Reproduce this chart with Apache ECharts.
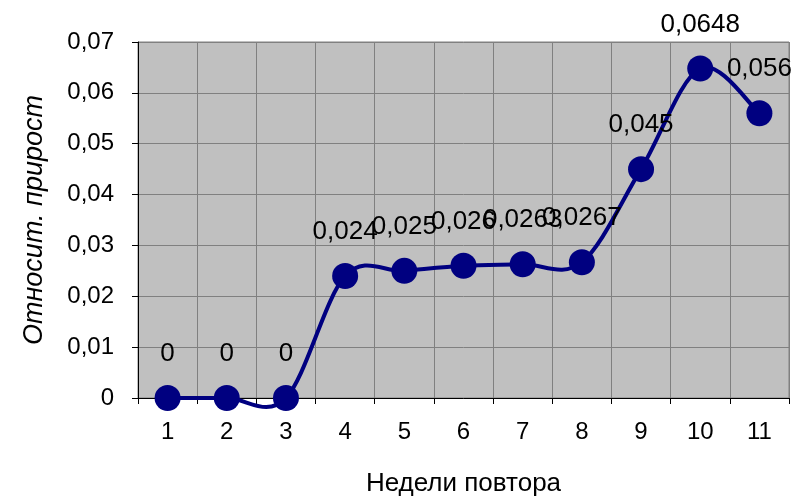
<!DOCTYPE html>
<html>
<head>
<meta charset="utf-8">
<script src="https://cdn.jsdelivr.net/npm/echarts@6/dist/echarts.min.js"></script>
<style>html,body{margin:0;padding:0;background:#fff}#c{width:806px;height:498px}</style>
</head>
<body>
<div id="c"></div>
<script>
var weeks = ['1','2','3','4','5','6','7','8','9','10','11'];
var growth = [0, 0, 0, 0.024, 0.025, 0.026, 0.0263, 0.0267, 0.045, 0.0648, 0.056];
var yTicks = [0, 0.01, 0.02, 0.03, 0.04, 0.05, 0.06, 0.07];
var xName = 'Недели повтора';
var yName = 'Относит. прирост';

function comma(v){ return String(v).replace('.', ','); }
var FONT = 'Liberation Sans, Arial, sans-serif';

// Excel-style smoothed line (Catmull-Rom Bezier) through data points, via axis coords
function renderCurve(params, api) {
  var pts = growth.map(function(v, i){ return api.coord([i, v]); });
  var n = pts.length;
  var d = 'M' + pts[0][0] + ' ' + pts[0][1];
  for (var i = 0; i < n - 1; i++) {
    var p0 = pts[Math.max(i - 1, 0)], p1 = pts[i], p2 = pts[i + 1], p3 = pts[Math.min(i + 2, n - 1)];
    var c1x = p1[0] + (p2[0] - p0[0]) / 6, c1y = p1[1] + (p2[1] - p0[1]) / 6;
    var c2x = p2[0] - (p3[0] - p1[0]) / 6, c2y = p2[1] - (p3[1] - p1[1]) / 6;
    d += ' C' + c1x + ' ' + c1y + ' ' + c2x + ' ' + c2y + ' ' + p2[0] + ' ' + p2[1];
  }
  return {
    type: 'path',
    shape: { pathData: d },
    style: { stroke: '#000080', lineWidth: 4, fill: null, lineJoin: 'round' }
  };
}

var chart = echarts.init(document.getElementById('c'));
chart.setOption({
  animation: false,
  textStyle: { fontFamily: FONT },
  grid: {
    left: 138, right: 17, top: 42, bottom: 100,
    outerBoundsMode: 'none', containLabel: false,
    show: true, backgroundColor: '#C0C0C0', borderColor: '#808080', borderWidth: 1
  },
  xAxis: {
    type: 'category',
    data: weeks,
    boundaryGap: true,
    name: xName,
    nameLocation: 'middle',
    nameGap: 73,
    nameTextStyle: { fontSize: 26, color: '#000', fontFamily: FONT },
    axisLine: { lineStyle: { color: '#000', width: 1 } },
    axisTick: { show: true, length: 6, lineStyle: { color: '#000' } },
    axisLabel: { fontSize: 24, color: '#000', margin: 22 },
    splitLine: { show: true, lineStyle: { color: '#808080', width: 1 } }
  },
  yAxis: {
    type: 'value',
    min: yTicks[0], max: yTicks[yTicks.length - 1], interval: 0.01,
    name: yName,
    nameLocation: 'middle',
    nameGap: 90,
    nameTextStyle: { fontSize: 27, fontStyle: 'italic', color: '#000', fontFamily: FONT },
    axisLine: { show: true, lineStyle: { color: '#000', width: 1 } },
    axisTick: { show: true, length: 6, lineStyle: { color: '#000' } },
    axisLabel: { fontSize: 24, color: '#000', margin: 24, formatter: function(v){ return comma(+v.toFixed(2)); } },
    splitLine: { show: true, lineStyle: { color: '#808080', width: 1 } }
  },
  series: [{
    type: 'custom',
    renderItem: renderCurve,
    data: [0],
    z: 1,
    silent: true
  }, {
    type: 'line',
    data: growth,
    z: 2,
    symbol: 'circle',
    symbolSize: 26,
    lineStyle: { opacity: 0 },
    itemStyle: { color: '#000080' },
    label: {
      show: true, position: 'top', distance: 18,
      fontSize: 26, color: '#000',
      formatter: function(p){ return comma(p.value); }
    }
  }]
});
</script>
</body>
</html>
